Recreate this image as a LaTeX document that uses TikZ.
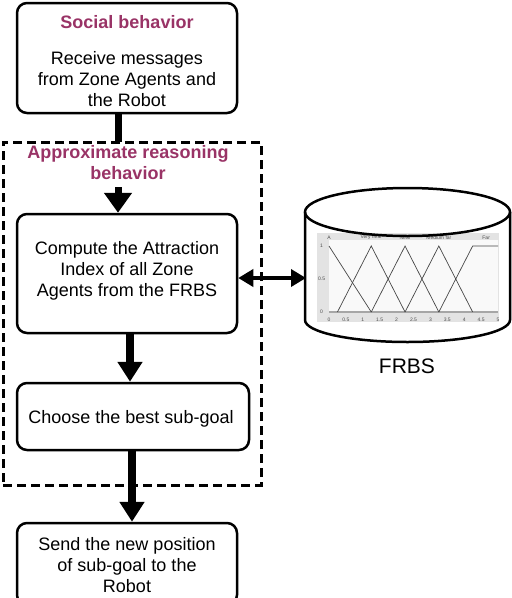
\documentclass[tikz,border=0pt]{standalone}
\usepackage{fontspec}
\setmainfont{Liberation Sans}
\usetikzlibrary{arrows.meta}
\definecolor{plum}{RGB}{153,51,102}
\begin{document}
\begin{tikzpicture}[x=1pt,y=-1pt,
  box/.style={draw,line width=2.5pt,rounded corners=10pt,inner sep=0pt},
  txt/.style={font=\fontsize{18}{21}\selectfont,align=center,inner sep=0pt},
  ttl/.style={font=\fontsize{18}{21}\selectfont\bfseries,text=plum,align=center,inner sep=0pt},
  flowA/.style={line width=7pt,-{Triangle[length=20pt,width=27pt]}},
  flowB/.style={line width=8pt,-{Triangle[length=20pt,width=24pt]}},
  dbl/.style={line width=3.5pt,{Triangle[length=15pt,width=17pt]}-{Triangle[length=15pt,width=17pt]}},
  curve/.style={line width=0.7pt,draw=gray!55!black},
  tiny/.style={font=\fontsize{5}{6}\selectfont,text=gray!60!black,inner sep=0pt}]
\useasboundingbox (0,0) rectangle (512,598);

% dashed group
\node[draw,line width=3pt,dash pattern=on 9pt off 5pt,minimum width=258pt,minimum height=343pt,inner sep=0pt] (approx) at (132,313.5) {};
\node[ttl] (approxT) at (128,163) {Approximate reasoning\\behavior};

% boxes
\node[box,minimum width=220pt,minimum height=110pt] (social) at (127,58) {};
\node[ttl] (socialT) at (127,22) {Social behavior};
\node[txt] (socialB) at (127,79) {Receive messages\\from Zone Agents and\\the Robot};

\node[box,minimum width=220pt,minimum height=119pt] (compute) at (127,273.5) {};
\node[txt] (computeT) at (127,271) {Compute the Attraction\\Index of all Zone\\Agents from the FRBS};

\node[box,minimum width=232pt,minimum height=67pt] (choose) at (133,416.5) {};
\node[txt] (chooseT) at (131,419) {Choose the best sub-goal};

\node[box,minimum width=220pt,minimum height=82pt] (send) at (127,564) {};
\node[txt] (sendT) at (127,565) {Send the new position\\of sub-goal to the\\Robot};

% connectors
\coordinate (j1) at (118,142);
\coordinate (j2) at (118,187);
\coordinate (k) at (130,0);
\coordinate (m) at (132,0);
\draw[line width=7pt] (social.south -| j1) -- (j1);
\draw[flowA] (j2) -- (compute.north -| j2);
\draw[flowB] (compute.south -| k) -- (choose.north -| k);
\draw[flowB] (choose.south -| m) -- (send.north -| m);

% cylinder
\draw[line width=2.5pt,fill=white] (305,212) -- (305,320) arc[start angle=180,end angle=360,x radius=102.5pt,y radius=22pt] -- (510,212);
\coordinate (cylW) at (306,278);
\draw[dbl] (compute.east |- cylW) -- (cylW);

% chart
\fill[gray!22] (317,233) rectangle (499,322);
\fill[gray!5] (329,240) rectangle (498,312);
\draw[gray!70,line width=1.2pt] (329,312) -- (498,312);
\begin{scope}[shift={(329,312)},x=33.8pt,y=66pt]
  \draw[curve] (0,1) -- (1.25,0);
  \draw[curve] (0.25,0) -- (1.25,1) -- (2.25,0);
  \draw[curve] (1.25,0) -- (2.25,1) -- (3.25,0);
  \draw[curve] (2.25,0) -- (3.25,1) -- (4.25,0);
  \draw[curve] (3.25,0) -- (4.25,1) -- (5,1);
  \node[tiny] (lA) at (0,1.13) {A};
  \node[tiny] (lVN) at (1.25,1.13) {Very near};
  \node[tiny] (lN) at (2.25,1.13) {Near};
  \node[tiny] (lMF) at (3.25,1.13) {Medium far};
  \node[tiny] (lF) at (4.65,1.13) {Far};
  \node[tiny] (y1) at (-0.22,1) {1};
  \node[tiny] (y05) at (-0.22,0.5) {0.5};
  \node[tiny] (y0) at (-0.22,0) {0};
  \foreach \v/\t in {0/0,0.5/0.5,1/1,1.5/1.5,2/2,2.5/2.5,3/3,3.5/3.5,4/4,4.5/4.5,5/5}
    \node[tiny] (x\t) at (\v,-0.12) {\t};
\end{scope}
\draw[line width=2.5pt,fill=white,fill opacity=0] (407.5,212) ellipse[x radius=102.5pt,y radius=24pt];

\node[font=\fontsize{21}{24}\selectfont,inner sep=0pt] (frbsL) at (407,366) {FRBS};
\end{tikzpicture}
\end{document}
